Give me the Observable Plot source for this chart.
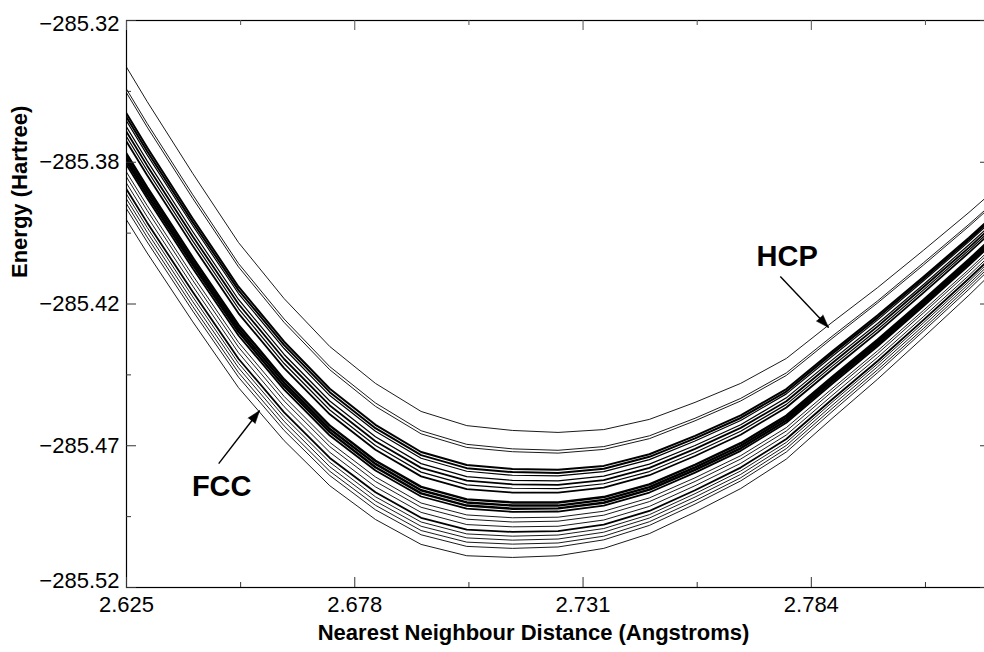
<!DOCTYPE html>
<html>
<head>
<meta charset="utf-8">
<script src="https://cdn.jsdelivr.net/npm/d3@7"></script>
<script src="https://cdn.jsdelivr.net/npm/@observablehq/plot@0.6"></script>
<style>
  html, body { margin: 0; padding: 0; background: #fff; overflow: hidden; }
  #chart svg { overflow: hidden; display: block; }
</style>
</head>
<body>
<div id="chart"></div>
<script>
// Sampled nearest-neighbour distances (Angstroms)
const distance = [2.6192, 2.6298, 2.6404, 2.6510, 2.6616, 2.6722, 2.6828, 2.6934, 2.7040, 2.7146, 2.7252,
                  2.7358, 2.7464, 2.7570, 2.7676, 2.7782, 2.7888, 2.7994, 2.8100, 2.8206, 2.8312];

// Energy (Hartree) of each curve at the distances above (top to bottom)
const energyCurves = [
  [-285.3218,-285.3486,-285.3740,-285.3983,-285.4181,-285.4350,-285.4480,-285.4579,-285.4629,-285.4646,-285.4653,-285.4643,-285.4607,-285.4547,-285.4480,-285.4392,-285.4265,-285.4142,-285.4011,-285.3877,-285.3736],
  [-285.3296,-285.3563,-285.3815,-285.4057,-285.4253,-285.4421,-285.4549,-285.4647,-285.4695,-285.4711,-285.4716,-285.4703,-285.4665,-285.4603,-285.4533,-285.4443,-285.4314,-285.4189,-285.4055,-285.3919,-285.3776],
  [-285.3309,-285.3576,-285.3828,-285.4069,-285.4265,-285.4432,-285.4561,-285.4658,-285.4706,-285.4721,-285.4726,-285.4713,-285.4675,-285.4612,-285.4542,-285.4452,-285.4322,-285.4196,-285.4063,-285.3926,-285.3782],
  [-285.3383,-285.3648,-285.3899,-285.4139,-285.4333,-285.4499,-285.4626,-285.4722,-285.4768,-285.4782,-285.4785,-285.4771,-285.4730,-285.4665,-285.4593,-285.4500,-285.4368,-285.4240,-285.4105,-285.3966,-285.3820],
  [-285.3396,-285.3661,-285.3912,-285.4151,-285.4345,-285.4511,-285.4638,-285.4733,-285.4779,-285.4793,-285.4796,-285.4781,-285.4739,-285.4674,-285.4602,-285.4509,-285.4376,-285.4248,-285.4112,-285.3973,-285.3826],
  [-285.3410,-285.3674,-285.3924,-285.4163,-285.4357,-285.4523,-285.4649,-285.4744,-285.4790,-285.4804,-285.4806,-285.4791,-285.4749,-285.4683,-285.4611,-285.4517,-285.4385,-285.4256,-285.4119,-285.3980,-285.3833],
  [-285.3431,-285.3695,-285.3945,-285.4184,-285.4378,-285.4542,-285.4668,-285.4763,-285.4809,-285.4822,-285.4824,-285.4807,-285.4765,-285.4699,-285.4626,-285.4531,-285.4398,-285.4269,-285.4132,-285.3991,-285.3844],
  [-285.3449,-285.3712,-285.3962,-285.4200,-285.4394,-285.4558,-285.4684,-285.4778,-285.4823,-285.4836,-285.4838,-285.4821,-285.4778,-285.4711,-285.4637,-285.4543,-285.4409,-285.4279,-285.4141,-285.4001,-285.3853],
  [-285.3466,-285.3729,-285.3978,-285.4216,-285.4410,-285.4574,-285.4699,-285.4793,-285.4838,-285.4850,-285.4851,-285.4834,-285.4791,-285.4724,-285.4649,-285.4554,-285.4420,-285.4290,-285.4151,-285.4010,-285.3862],
  [-285.3484,-285.3746,-285.3995,-285.4233,-285.4426,-285.4589,-285.4714,-285.4808,-285.4853,-285.4865,-285.4865,-285.4848,-285.4804,-285.4736,-285.4661,-285.4565,-285.4431,-285.4300,-285.4161,-285.4019,-285.3871],
  [-285.3527,-285.3789,-285.4037,-285.4274,-285.4466,-285.4629,-285.4753,-285.4845,-285.4889,-285.4900,-285.4900,-285.4881,-285.4836,-285.4767,-285.4691,-285.4594,-285.4458,-285.4326,-285.4186,-285.4043,-285.3893],
  [-285.3540,-285.3802,-285.4050,-285.4286,-285.4478,-285.4641,-285.4764,-285.4857,-285.4900,-285.4911,-285.4911,-285.4891,-285.4846,-285.4776,-285.4700,-285.4602,-285.4466,-285.4333,-285.4193,-285.4050,-285.3899],
  [-285.3553,-285.3815,-285.4062,-285.4298,-285.4490,-285.4652,-285.4776,-285.4868,-285.4911,-285.4922,-285.4921,-285.4901,-285.4855,-285.4785,-285.4709,-285.4611,-285.4474,-285.4341,-285.4200,-285.4057,-285.3906],
  [-285.3566,-285.3827,-285.4075,-285.4311,-285.4502,-285.4664,-285.4787,-285.4879,-285.4922,-285.4933,-285.4932,-285.4911,-285.4865,-285.4795,-285.4718,-285.4619,-285.4482,-285.4349,-285.4208,-285.4064,-285.3913],
  [-285.3592,-285.3853,-285.4100,-285.4335,-285.4526,-285.4688,-285.4810,-285.4902,-285.4944,-285.4954,-285.4952,-285.4931,-285.4884,-285.4813,-285.4735,-285.4636,-285.4499,-285.4365,-285.4223,-285.4078,-285.3926],
  [-285.3610,-285.3870,-285.4117,-285.4352,-285.4542,-285.4703,-285.4826,-285.4917,-285.4959,-285.4969,-285.4966,-285.4945,-285.4897,-285.4826,-285.4747,-285.4648,-285.4509,-285.4375,-285.4232,-285.4087,-285.3935],
  [-285.3631,-285.3892,-285.4137,-285.4372,-285.4562,-285.4723,-285.4845,-285.4935,-285.4978,-285.4986,-285.4984,-285.4962,-285.4914,-285.4841,-285.4762,-285.4662,-285.4523,-285.4388,-285.4245,-285.4099,-285.3946],
  [-285.3653,-285.3913,-285.4158,-285.4393,-285.4582,-285.4743,-285.4864,-285.4954,-285.4996,-285.5004,-285.5001,-285.4978,-285.4930,-285.4857,-285.4777,-285.4676,-285.4537,-285.4401,-285.4257,-285.4110,-285.3957],
  [-285.3671,-285.3930,-285.4175,-285.4409,-285.4598,-285.4758,-285.4880,-285.4969,-285.5011,-285.5019,-285.5015,-285.4992,-285.4943,-285.4869,-285.4789,-285.4688,-285.4547,-285.4411,-285.4267,-285.4120,-285.3965],
  [-285.3688,-285.3947,-285.4192,-285.4425,-285.4614,-285.4774,-285.4895,-285.4984,-285.5025,-285.5033,-285.5029,-285.5005,-285.4955,-285.4881,-285.4801,-285.4699,-285.4558,-285.4421,-285.4277,-285.4129,-285.3974],
  [-285.3705,-285.3964,-285.4209,-285.4442,-285.4630,-285.4790,-285.4910,-285.4999,-285.5040,-285.5047,-285.5043,-285.5019,-285.4968,-285.4894,-285.4813,-285.4710,-285.4569,-285.4432,-285.4287,-285.4138,-285.3983],
  [-285.3723,-285.3981,-285.4225,-285.4458,-285.4646,-285.4805,-285.4926,-285.5014,-285.5055,-285.5062,-285.5057,-285.5032,-285.4981,-285.4906,-285.4824,-285.4722,-285.4580,-285.4442,-285.4296,-285.4148,-285.3992],
  [-285.3762,-285.4020,-285.4263,-285.4495,-285.4682,-285.4841,-285.4960,-285.5048,-285.5088,-285.5094,-285.5088,-285.5062,-285.5010,-285.4934,-285.4851,-285.4747,-285.4604,-285.4465,-285.4318,-285.4169,-285.4012]
];

// Axis ticks and labels
const xTickValues = [2.625, 2.678, 2.731, 2.784];
const xMinorTicks = [2.6515, 2.7045, 2.7575, 2.8105];
const yTickValues = [-285.52, -285.47, -285.42, -285.37, -285.32];
const yTickLabels = ["\u2212285.52", "\u2212285.47", "\u2212285.42", "\u2212285.38", "\u2212285.32"];
const yMinorTicks = [-285.495, -285.445, -285.395, -285.345];

const xTitle = "Nearest Neighbour Distance (Angstroms)";
const yTitle = "Energy (Hartree)";

// Annotations (labels and arrows), in data units
const annotationLabels = [
  {label: "FCC", distance: 2.6471, energy: -285.4844},
  {label: "HCP", distance: 2.7784, energy: -285.4032}
];
const annotationArrows = [
  {label: "FCC", x1: 2.6464, y1: -285.4763, x2: 2.6559, y2: -285.4576, angle: 38},
  {label: "HCP", x1: 2.7768, y1: -285.4103, x2: 2.7880, y2: -285.4283, angle: 137}
];

// Styling (line widths per curve, to reproduce the dense bands)
const curveWidths = [0.9, 0.9, 0.9, 2, 2, 1.2, 1.2, 1.8, 1.2, 1.8, 2.4, 2.4, 2.4, 1.8, 0.9, 0.9, 0.9, 1.8, 0.9, 0.9, 0.9, 0.9, 0.9];

const rows = energyCurves.flatMap((curve, i) =>
  curve.map((energy, j) => ({curve: i, distance: distance[j], energy})));

const W = 984, H = 652;
const mL = 126, mR = -6, mT = 20, mB = 65;
const innerW = W - mL - mR, innerH = H - mT - mB;
const majorLen = 10, minorLen = 5;
const yLabel = d => yTickLabels[yTickValues.indexOf(d)];
const yEdgeLow = yTickValues.slice(0, 1);
const yMiddle = yTickValues.slice(1, -1);
const yEdgeHigh = yTickValues.slice(-1);

const chart = Plot.plot({
  width: W, height: H,
  marginLeft: mL, marginRight: mR, marginTop: mT, marginBottom: mB,
  style: {fontFamily: "'Liberation Sans', Arial, Helvetica, sans-serif", background: "white", color: "black"},
  x: {domain: [2.625, 2.8256], axis: null},
  y: {domain: [-285.52, -285.32], axis: null},
  marks: [
    Plot.line(rows, {x: "distance", y: "energy", z: "curve", stroke: "black",
      strokeWidth: d => curveWidths[d.curve], clip: true}),
    Plot.frame({stroke: "black", strokeWidth: 1.2}),
    // bottom ticks (inward)
    Plot.tickX(xTickValues, {x: d => d, insetTop: innerH - majorLen, stroke: "#333"}),
    Plot.tickX(xMinorTicks, {x: d => d, insetTop: innerH - minorLen, stroke: "#333"}),
    // top ticks (inward)
    Plot.tickX(xTickValues, {x: d => d, insetBottom: innerH - majorLen, stroke: "#555"}),
    Plot.tickX(xMinorTicks, {x: d => d, insetBottom: innerH - minorLen, stroke: "#555"}),
    // left ticks
    Plot.tickY(yTickValues, {y: d => d, insetRight: innerW - majorLen, stroke: "#333"}),
    Plot.tickY(yMinorTicks, {y: d => d, insetRight: innerW - minorLen, stroke: "#333"}),
    // right ticks
    Plot.tickY(yTickValues, {y: d => d, insetLeft: innerW - majorLen, stroke: "#333"}),
    Plot.tickY(yMinorTicks, {y: d => d, insetLeft: innerW - minorLen, stroke: "#333"}),
    // tick labels
    Plot.axisX(xTickValues, {tickSize: 0, tickPadding: 9, fontSize: 22, label: null,
      tickFormat: d3.format(".3f")}),
    Plot.axisY(yMiddle, {tickSize: 0, tickPadding: 7, fontSize: 22, label: null, tickFormat: yLabel}),
    Plot.axisY(yEdgeLow, {tickSize: 0, tickPadding: 7, fontSize: 22, label: null, tickFormat: yLabel, dy: -7}),
    Plot.axisY(yEdgeHigh, {tickSize: 0, tickPadding: 7, fontSize: 22, label: null, tickFormat: yLabel, dy: 3}),
    // axis titles
    Plot.text([xTitle], {frameAnchor: "bottom", text: d => d, dx: -25, dy: 52,
      fontSize: 22, fontWeight: "bold"}),
    Plot.text([yTitle], {frameAnchor: "left", text: d => d, rotate: -90, dx: -107, dy: -26,
      fontSize: 22, fontWeight: "bold"}),
    // annotations
    Plot.text(annotationLabels, {x: "distance", y: "energy", text: "label",
      fontSize: 29, fontWeight: "bold"}),
    Plot.link(annotationArrows, {x1: "x1", y1: "y1", x2: "x2", y2: "y2", stroke: "black", strokeWidth: 1.4}),
    Plot.vector(annotationArrows, {x: "x2", y: "y2", rotate: "angle", length: 13, r: 4.5,
      shape: "spike", anchor: "end", fill: "black", stroke: "black", strokeWidth: 0.5})
  ]
});

document.getElementById("chart").appendChild(chart);
</script>
</body>
</html>
